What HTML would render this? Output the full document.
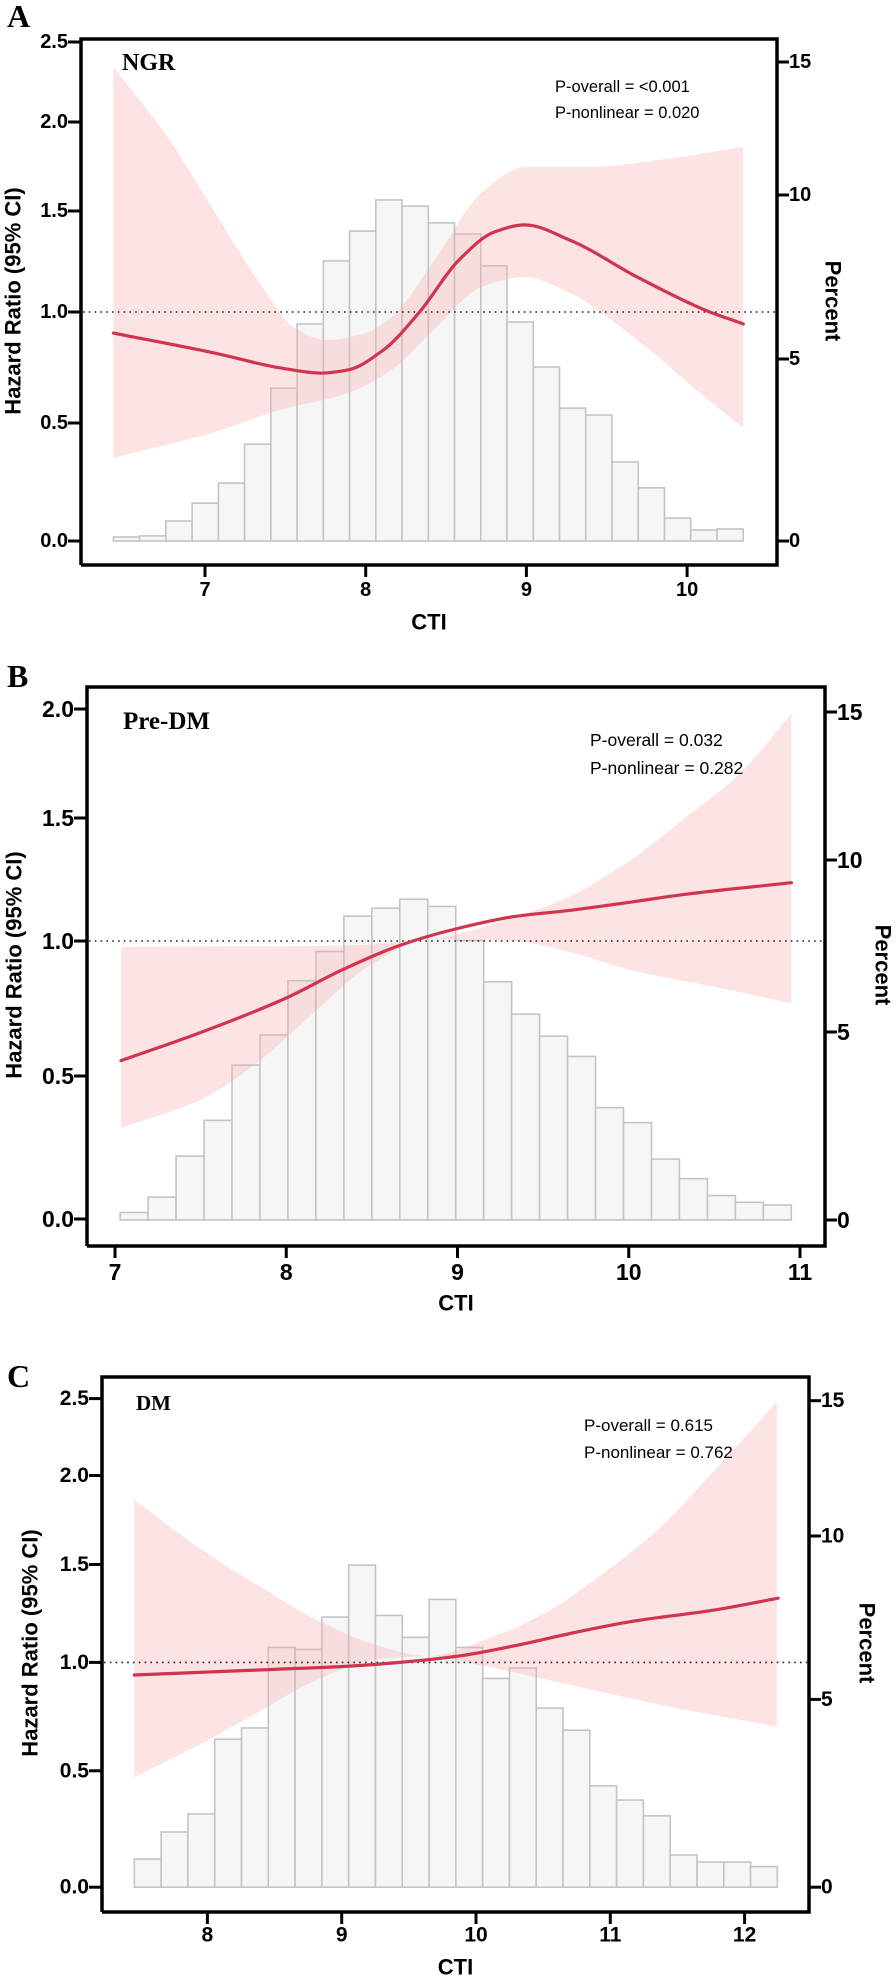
<!DOCTYPE html>
<html><head><meta charset="utf-8"><style>
html,body{margin:0;padding:0;background:#fff;}
svg{display:block;}
text{font-family:"Liberation Sans",Arial,sans-serif;}
.serif{font-family:"Liberation Serif","Times New Roman",serif;font-weight:bold;}
</style></head><body>
<svg id="fig" width="896" height="1979" viewBox="0 0 896 1979" xmlns="http://www.w3.org/2000/svg"></svg>
<script>
// ---------- Panel A (NGR) ----------
const aHistStart = 6.43;
const aHistWidth = 0.1633;
const aHistPct = [0.11,0.14,0.55,1.04,1.59,2.66,4.20,6.07,7.99,8.90,9.85,9.66,9.15,8.81,7.84,6.13,4.78,3.65,3.46,2.17,1.46,0.63,0.30,0.33];
const aCurveX = [6.43,7.06,7.47,7.72,7.89,8.11,8.33,8.58,8.80,8.99,9.27,9.69,10.11,10.35];
const aCurveHR = [0.905,0.815,0.748,0.725,0.739,0.829,0.995,1.257,1.396,1.431,1.356,1.173,1.01,0.946];
const aUpperX = [6.43,6.78,7.06,7.34,7.55,7.75,8.0,8.16,8.44,8.72,8.99,9.41,9.83,10.35];
const aUpperHR = [2.344,1.899,1.495,1.144,0.932,0.874,0.905,0.977,1.272,1.601,1.747,1.747,1.787,1.860];
const aLowerX = [6.43,7.06,7.47,7.89,8.16,8.44,8.72,8.99,9.27,9.69,10.11,10.35];
const aLowerHR = [0.352,0.462,0.559,0.635,0.739,0.932,1.124,1.173,1.094,0.874,0.617,0.479];
const aXTicks = [7,8,9,10];
const aHRTicks = [0,0.5,1,1.5,2,2.5];
const aPctTicks = [0,5,10,15];

// ---------- Panel B (Pre-DM) ----------
const bHistStart = 7.03;
const bHistWidth = 0.1633;
const bHistPct = [0.20,0.61,1.70,2.65,4.12,4.92,6.49,7.34,8.37,8.60,8.86,8.65,7.66,6.46,5.52,4.89,4.35,2.99,2.59,1.62,1.10,0.65,0.47,0.40];
const bCurveX = [7.035,7.50,8.0,8.33,8.66,9.0,9.33,9.66,10.0,10.33,10.95];
const bCurveHR = [0.557,0.661,0.789,0.894,0.983,1.051,1.099,1.125,1.157,1.190,1.237];
const bUpperX = [7.035,8.33,8.83,9.33,9.66,10.0,10.33,10.67,10.95];
const bUpperHR = [0.978,0.983,1.007,1.095,1.183,1.324,1.5,1.72,1.98];
const bLowerX = [7.035,7.50,7.83,8.16,8.49,8.83,9.33,9.66,10.0,10.5,10.95];
const bLowerHR = [0.319,0.417,0.549,0.734,0.910,1.007,0.999,0.958,0.894,0.83,0.769];
const bXTicks = [7,8,9,10,11];
const bHRTicks = [0,0.5,1,1.5,2];
const bPctTicks = [0,5,10,15];

// ---------- Panel C (DM) ----------
const cHistStart = 7.456;
const cHistWidth = 0.1995;
const cHistPct = [0.75,1.47,1.95,3.94,4.24,6.59,6.53,7.52,9.11,7.57,6.90,8.06,6.59,5.64,5.96,4.77,4.18,2.70,2.32,1.90,0.86,0.67,0.67,0.55];
const cCurveX = [7.456,8.456,9.01,9.434,9.869,10.294,10.718,11.15,11.78,12.25];
const cCurveHR = [0.942,0.967,0.981,1.0,1.032,1.086,1.150,1.208,1.268,1.328];
const cUpperX = [7.456,7.945,8.369,8.794,9.218,9.65,10.075,10.499,10.92,11.35,11.77,12.24];
const cUpperHR = [1.863,1.59,1.397,1.225,1.097,1.032,1.118,1.247,1.44,1.693,2.027,2.479];
const cLowerX = [7.456,7.945,8.369,8.794,9.218,9.65,10.075,10.718,11.35,12.24];
const cLowerHR = [0.473,0.622,0.767,0.913,1.011,1.032,0.981,0.894,0.807,0.704];
const cXTicks = [8,9,10,11,12];
const cHRTicks = [0,0.5,1,1.5,2,2.5];
const cPctTicks = [0,5,10,15];

const NS = "http://www.w3.org/2000/svg";
const svg = document.getElementById('fig');

function mk(tag, parent, attrs) {
  const e = document.createElementNS(NS, tag);
  for (const k in attrs) e.setAttribute(k, attrs[k]);
  parent.appendChild(e);
  return e;
}
function piece(vals, pxs) {
  return function (v) {
    let i = 0;
    while (i < vals.length - 2 && v > vals[i + 1]) i++;
    const t = (v - vals[i]) / (vals[i + 1] - vals[i]);
    return pxs[i] + t * (pxs[i + 1] - pxs[i]);
  };
}
// monotone cubic (Fritsch-Carlson); pts sorted by x ascending unless rev
function smooth(pts, start) {
  let rev = false;
  if (pts[0][0] > pts[pts.length - 1][0]) { pts = pts.slice().reverse(); rev = true; }
  const n = pts.length, dx = [], s = [], m = [];
  for (let i = 0; i < n - 1; i++) { dx.push(pts[i + 1][0] - pts[i][0]); s.push((pts[i + 1][1] - pts[i][1]) / dx[i]); }
  m[0] = s[0]; m[n - 1] = s[n - 2];
  for (let i = 1; i < n - 1; i++) {
    if (s[i - 1] * s[i] <= 0) m[i] = 0;
    else { const w1 = 2 * dx[i] + dx[i - 1], w2 = dx[i] + 2 * dx[i - 1]; m[i] = (w1 + w2) / (w1 / s[i - 1] + w2 / s[i]); }
  }
  const segs = [];
  for (let i = 0; i < n - 1; i++) {
    const h = dx[i] / 3;
    segs.push([pts[i], [pts[i][0] + h, pts[i][1] + m[i] * h], [pts[i + 1][0] - h, pts[i + 1][1] - m[i + 1] * h], pts[i + 1]]);
  }
  const f = p => p[0].toFixed(1) + ',' + p[1].toFixed(1);
  let d;
  if (!rev) {
    d = (start ? 'M' : 'L') + f(pts[0]);
    segs.forEach(sg => { d += 'C' + f(sg[1]) + ' ' + f(sg[2]) + ' ' + f(sg[3]); });
  } else {
    d = (start ? 'M' : 'L') + f(pts[n - 1]);
    for (let i = segs.length - 1; i >= 0; i--) { const sg = segs[i]; d += 'C' + f(sg[2]) + ' ' + f(sg[1]) + ' ' + f(sg[0]); }
  }
  return d;
}

function panel(cfg) {
  const g = mk('g', svg, {});
  
  
  const X = v => cfg.x0 + (v - cfg.xt0) * cfg.xUnit;
  const Y = piece(cfg.hrTicks, cfg.hrPx);
  const P = piece(cfg.pctTicks, cfg.pctPx);

  const L = mk('text', g, {x: cfg.letterX, y: cfg.letterY, 'font-size': 32, class: 'serif'});
  L.textContent = cfg.letter;
  
  

  const hg = mk('g', g, {});
  
  
  const zero = P(0);
  cfg.hist.forEach((p, i) => {
    const xa = X(cfg.hStart + i * cfg.hWidth), xb = X(cfg.hStart + (i + 1) * cfg.hWidth);
    const yt = P(p);
    const r = mk('rect', hg, {x: xa, y: yt, width: xb - xa, height: zero - yt, fill: '#f6f6f6', stroke: '#c4c4c4', 'stroke-width': 1.6});
    
    
  });

  const up = cfg.upX.map((v, i) => [X(v), Y(cfg.upHR[i])]);
  const lo = cfg.loX.map((v, i) => [X(v), Y(cfg.loHR[i])]).reverse();
  const band = mk('path', g, {d: smooth(up, true) + smooth(lo, false) + 'Z', fill: 'rgba(248,170,170,0.33)', stroke: 'none'});
  
  

  const ref = mk('line', g, {x1: cfg.left + 2, x2: cfg.right - 2, y1: Y(1), y2: Y(1), stroke: '#222', 'stroke-width': 1.6, 'stroke-dasharray': '1.6,4.2'});
  
  

  const cp = cfg.cX.map((v, i) => [X(v), Y(cfg.cHR[i])]);
  const curve = mk('path', g, {d: smooth(cp, true), fill: 'none', stroke: '#d1344f', 'stroke-width': 3.2, 'stroke-linecap': 'round'});
  
  

  const fr = mk('path', g, {d: 'M' + cfg.left + ',' + cfg.bottom + 'V' + cfg.top + 'H' + cfg.right + 'V' + cfg.bottom + 'H' + cfg.left, fill: 'none', stroke: '#000', 'stroke-width': 3.5});
  
  

  cfg.hrTicks.forEach(t => {
    const y = Y(t);
    const tk = mk('line', g, {x1: cfg.left - 13, x2: cfg.left, y1: y, y2: y, stroke: '#000', 'stroke-width': 3});
    
    
    const tl = mk('text', g, {x: cfg.left - 13, y: y, 'font-size': cfg.tickFs, 'font-weight': 'bold', 'text-anchor': 'end', 'dominant-baseline': 'central'});
    tl.textContent = t.toFixed(1);
    
    
  });
  cfg.pctTicks.forEach(t => {
    const y = P(t);
    const tk = mk('line', g, {x1: cfg.right, x2: cfg.right + 12, y1: y, y2: y, stroke: '#000', 'stroke-width': 3});
    
    
    const tl = mk('text', g, {x: cfg.right + 12, y: y, 'font-size': cfg.tickFs, 'font-weight': 'bold', 'dominant-baseline': 'central'});
    tl.textContent = String(t);
    
    
  });
  cfg.xTicks.forEach(t => {
    const x = X(t);
    const tk = mk('line', g, {x1: x, x2: x, y1: cfg.bottom, y2: cfg.bottom + 12, stroke: '#000', 'stroke-width': 3});
    
    
    const tl = mk('text', g, {x: x, y: cfg.xLabY, 'font-size': cfg.tickFs, 'font-weight': 'bold', 'text-anchor': 'middle', 'dominant-baseline': 'central'});
    tl.textContent = String(t);
    
    
  });

  const xt = mk('text', g, {x: (cfg.left + cfg.right) / 2, y: cfg.xTitleY, 'font-size': 22, 'font-weight': 'bold', 'text-anchor': 'middle', 'dominant-baseline': 'central'});
  xt.textContent = 'CTI';
  
  
  const yt = mk('text', g, {x: 0, y: 0, 'font-size': 22, 'font-weight': 'bold', 'text-anchor': 'middle', 'dominant-baseline': 'central', transform: 'translate(' + cfg.yTitleX + ',' + cfg.titleY + ') rotate(-90)'});
  yt.textContent = 'Hazard Ratio (95% CI)';
  
  
  const pt = mk('text', g, {x: 0, y: 0, 'font-size': 22, 'font-weight': 'bold', 'text-anchor': 'middle', 'dominant-baseline': 'central', transform: 'translate(' + cfg.pctTitleX + ',' + cfg.titleY + ') rotate(90)'});
  pt.textContent = 'Percent';
  
  

  const gl = mk('text', g, {x: cfg.groupX, y: cfg.groupY, 'font-size': cfg.groupFs, class: 'serif'});
  gl.textContent = cfg.group;
  
  
  const p1 = mk('text', g, {x: cfg.pX, y: cfg.pY1, 'font-size': cfg.pFs});
  p1.textContent = cfg.pOverall;
  
  
  const p2 = mk('text', g, {x: cfg.pX, y: cfg.pY2, 'font-size': cfg.pFs});
  p2.textContent = cfg.pNonlinear;
  
  
}

panel({id: 'ngr', letter: 'A', letterX: 7, letterY: 27, group: 'NGR', groupX: 122, groupY: 70, groupFs: 24,
  pOverall: 'P-overall = <0.001', pNonlinear: 'P-nonlinear = 0.020', pX: 555, pY1: 92, pY2: 118, pFs: 16.5,
  left: 81, right: 777, top: 39, bottom: 565, x0: 205, xt0: 7, xUnit: 160.7,
  hrTicks: aHRTicks, hrPx: [541, 423, 312, 211, 122, 42], pctTicks: aPctTicks, pctPx: [541, 359, 195, 62],
  hist: aHistPct, hStart: aHistStart, hWidth: aHistWidth,
  cX: aCurveX, cHR: aCurveHR, upX: aUpperX, upHR: aUpperHR, loX: aLowerX, loHR: aLowerHR,
  xTicks: aXTicks, tickFs: 20, xLabY: 590, xTitleY: 622, yTitleX: 13, pctTitleX: 833, titleY: 301});

panel({id: 'pre-dm', letter: 'B', letterX: 7, letterY: 687, group: 'Pre-DM', groupX: 123, groupY: 729, groupFs: 25,
  pOverall: 'P-overall = 0.032', pNonlinear: 'P-nonlinear = 0.282', pX: 590, pY1: 746, pY2: 774, pFs: 17.5,
  left: 87, right: 825, top: 687, bottom: 1246, x0: 115, xt0: 7, xUnit: 171.25,
  hrTicks: bHRTicks, hrPx: [1219, 1076, 941, 818, 709], pctTicks: bPctTicks, pctPx: [1220, 1032, 860, 712],
  hist: bHistPct, hStart: bHistStart, hWidth: bHistWidth,
  cX: bCurveX, cHR: bCurveHR, upX: bUpperX, upHR: bUpperHR, loX: bLowerX, loHR: bLowerHR,
  xTicks: bXTicks, tickFs: 23, xLabY: 1272, xTitleY: 1303, yTitleX: 14, pctTitleX: 883, titleY: 965});

panel({id: 'dm', letter: 'C', letterX: 7, letterY: 1387, group: 'DM', groupX: 136, groupY: 1410, groupFs: 21,
  pOverall: 'P-overall = 0.615', pNonlinear: 'P-nonlinear = 0.762', pX: 584, pY1: 1431, pY2: 1458, pFs: 17,
  left: 102, right: 809, top: 1377, bottom: 1912, x0: 207.4, xt0: 8, xUnit: 134.3,
  hrTicks: cHRTicks, hrPx: [1887.2, 1770.8, 1662.4, 1564.5, 1475.5, 1398.6], pctTicks: cPctTicks, pctPx: [1887.2, 1699.4, 1536, 1400.7],
  hist: cHistPct, hStart: cHistStart, hWidth: cHistWidth,
  cX: cCurveX, cHR: cCurveHR, upX: cUpperX, upHR: cUpperHR, loX: cLowerX, loHR: cLowerHR,
  xTicks: cXTicks, tickFs: 21, xLabY: 1935, xTitleY: 1967, yTitleX: 30, pctTitleX: 867, titleY: 1643});
</script>
</body></html>
